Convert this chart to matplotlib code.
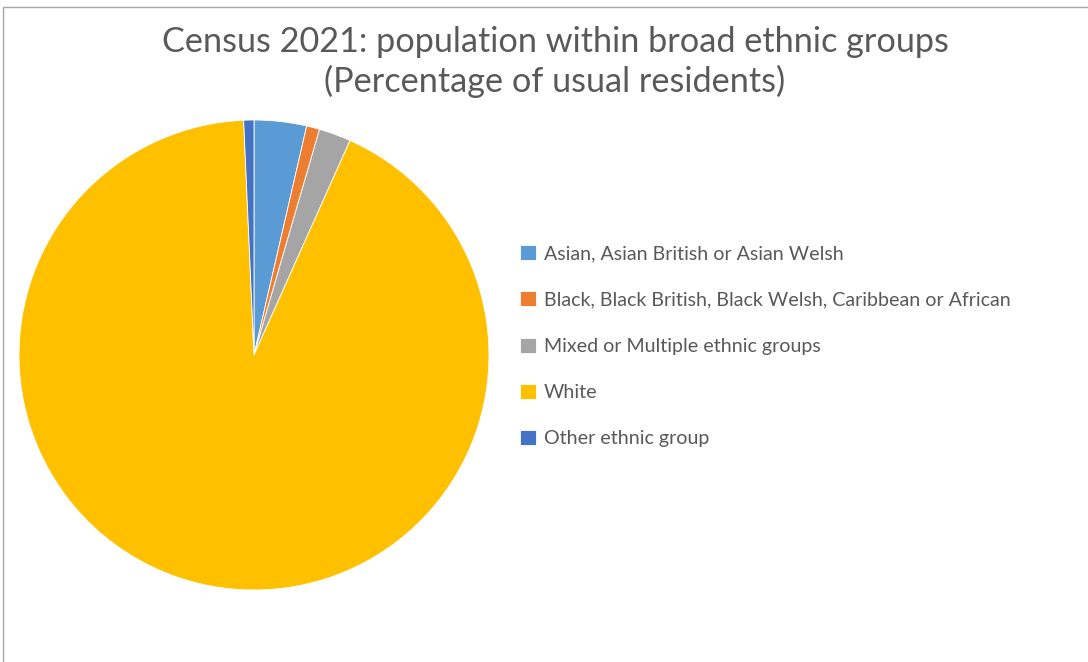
import matplotlib
matplotlib.use("Agg")
import matplotlib.pyplot as plt
from matplotlib.patches import Rectangle

categories = [
    "Asian, Asian British or Asian Welsh",
    "Black, Black British, Black Welsh, Caribbean or African",
    "Mixed or Multiple ethnic groups",
    "White",
    "Other ethnic group",
]
values = [3.6, 0.9, 2.2, 92.6, 0.7]
colors = ["#5B9BD5", "#ED7D31", "#A5A5A5", "#FFC000", "#4472C4"]
title = "Census 2021: population within broad ethnic groups\n(Percentage of usual residents)"

W, H = 1088, 662
fig = plt.figure(figsize=(W / 100, H / 100), dpi=100)
fig.patch.set_facecolor("white")

# border
fig.patches.append(Rectangle((3 / W, -0.1), 1.2, 1 - 7 / H + 0.1, transform=fig.transFigure,
                             fill=False, edgecolor="#A6A6A6", linewidth=1.0))

cx, cy, r = 254, 355, 235
ax = fig.add_axes([(cx - r) / W, 1 - (cy + r) / H, 2 * r / W, 2 * r / H])
wedges, _ = ax.pie(values, colors=colors, startangle=90, counterclock=False, radius=1,
                   wedgeprops=dict(edgecolor="white", linewidth=0.6))
ax.set_xlim(-1, 1)
ax.set_ylim(-1, 1)
ax.set_aspect("equal")
ax.axis("off")

fig.text(555 / W, 1 - 62 / H, title, ha="center", va="center", fontsize=24.7,
         color="#595959", family="Lato", linespacing=1.22)

leg = fig.legend(wedges, categories, loc="upper left", bbox_to_anchor=(520 / W, 1 - 245 / H),
                 frameon=False, prop=dict(family="Lato", size=14.1), labelcolor="#595959",
                 handlelength=0.8, handleheight=0.8, handletextpad=0.4, labelspacing=1.48,
                 borderpad=0, borderaxespad=0)

fig.savefig("out.png", dpi=100)
